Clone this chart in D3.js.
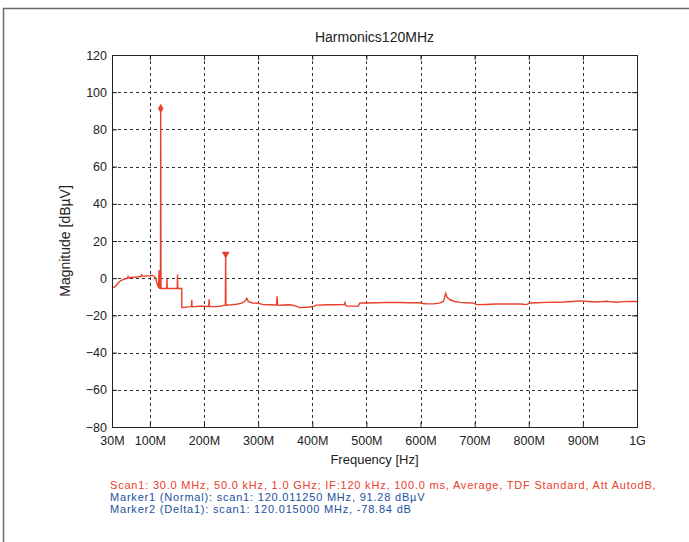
<!DOCTYPE html>
<html>
<head>
<meta charset="utf-8">
<script src="https://cdn.jsdelivr.net/npm/d3@7"></script>
<style>
  html, body { margin: 0; padding: 0; background: #fff; }
  svg { display: block; }
  text { font-family: "Liberation Sans", Arial, sans-serif; }
</style>
</head>
<body>
<svg id="chart" width="689" height="542"></svg>
<script>
// Scan trace: frequency in MHz and level in dBµV
const freqMHz = [
  30, 33, 36, 40, 44, 48, 52, 56, 59, 59.6, 60.2, 64, 70, 75, 80, 84, 84.6, 85.2, 90, 95, 100, 104, 107,
  110, 112, 114, 116, 116.8, 117.4, 118, 119.5, 120, 120.5, 126,
  131, 131.5, 132, 140, 150.5, 151, 151.5, 158.8, 159,
  165, 170, 176, 176.8, 177.4, 178, 185, 192, 200, 208, 208.8, 209.4, 210, 220, 230, 236, 239.4, 240, 240.6,
  250, 260, 270, 276, 279, 282, 290, 300, 310, 320, 334, 335, 336, 340, 345,
  359, 370, 377, 390, 396, 404, 408, 420, 427, 440, 457, 460, 460.6, 461.2, 464, 475, 485, 488,
  500, 520, 540, 560, 580, 599, 605, 611, 623, 635, 642, 644, 646.6, 649, 654.5, 663, 673, 685, 697,
  704, 720, 740, 755, 771, 785, 796, 802, 815, 833, 850, 865, 880, 895, 910, 925.6, 935, 944, 952, 962.5,
  975, 988, 1000
];
const levelDb = [
  -4.8, -4.9, -4.5, -3.0, -1.8, -1.0, -0.6, -0.2, 0.0, 1.4, 0.1, 0.4, 0.5, 0.6, 0.8, 0.9, 2.2, 1.0, 1.1, 1.2, 1.3, 1.6, 1.2,
  0.4, -1.5, -3.5, -5.0, 4.3, -5.2, -5.4, -5.5, 91.28, -5.5, -5.5,
  -5.5, -0.5, -5.5, -5.5, -5.5, 2.0, -5.5, -5.5, -15.8,
  -15.6, -15.4, -15.3, -15.3, -11.8, -15.3, -15.2, -15.0, -15.1, -15.2, -15.2, -11.4, -15.2, -15.3, -15.1, -14.6, -14.5, 12.44, -14.5,
  -14.3, -14.0, -13.4, -12.3, -10.8, -12.6, -13.3, -13.5, -14.2, -14.3, -14.4, -9.7, -14.5, -14.6, -14.4,
  -14.3, -15.0, -15.8, -15.6, -15.5, -15.0, -14.5, -14.4, -14.3, -14.3, -14.2, -14.2, -12.5, -14.4, -15.0, -15.0, -15.0, -13.3,
  -13.3, -13.2, -13.0, -13.1, -13.2, -13.2, -13.6, -13.8, -13.8, -13.4, -12.5, -11.0, -8.2, -10.2, -11.6, -12.5, -13.0, -13.2, -13.3,
  -14.2, -14.1, -13.9, -13.9, -13.8, -13.9, -14.2, -13.3, -13.2, -13.0, -12.9, -12.8, -12.5, -12.2, -12.5, -12.8, -12.6, -12.4, -12.7, -12.9,
  -12.6, -12.5, -12.5
];

// Markers placed on the trace
const markerFreqMHz = [120, 240];
const markerLevelDb = [91.28, 12.44];

// Axis ticks
const xTickValues = [30, 100, 200, 300, 400, 500, 600, 700, 800, 900, 1000];
const xTickLabels = ["30M", "100M", "200M", "300M", "400M", "500M", "600M", "700M", "800M", "900M", "1G"];
const yTickValues = [-80, -60, -40, -20, 0, 20, 40, 60, 80, 100, 120];

// Text blocks
const chartTitle = "Harmonics120MHz";
const xAxisTitle = "Frequency [Hz]";
const yAxisTitle = "Magnitude [dBµV]";
const scanInfo = "Scan1: 30.0 MHz, 50.0 kHz, 1.0 GHz; IF:120 kHz, 100.0 ms, Average, TDF Standard, Att AutodB,";
const markerInfo = [
  "Marker1 (Normal): scan1: 120.011250 MHz, 91.28 dBµV",
  "Marker2 (Delta1): scan1: 120.015000 MHz, -78.84 dB"
];

const traceColor = "#e8402c";
const infoBlue = "#1b4f9e";

const svg = d3.select("#chart");
const plot = { left: 112, top: 55, right: 637, bottom: 427 };

const x = d3.scaleLinear().domain([30, 1000]).range([plot.left, plot.right]);
const y = d3.scaleLinear().domain([-80, 120]).range([plot.bottom, plot.top]);

// Outer frame (top and left edges)
svg.append("path")
  .attr("d", `M3.5,542 V8.5 H689`)
  .attr("fill", "none")
  .attr("stroke", "#6a6a6a")
  .attr("stroke-width", 1.5);

// Dashed grid
const grid = svg.append("g").attr("stroke", "#333").attr("stroke-width", 1).attr("stroke-dasharray", "3,3");
xTickValues.slice(1, -1).forEach(v => {
  grid.append("line")
    .attr("x1", Math.round(x(v)) + 0.5).attr("x2", Math.round(x(v)) + 0.5)
    .attr("y1", plot.top).attr("y2", plot.bottom);
});
yTickValues.slice(1, -1).forEach(v => {
  grid.append("line")
    .attr("x1", plot.left).attr("x2", plot.right)
    .attr("y1", Math.round(y(v)) + 0.5).attr("y2", Math.round(y(v)) + 0.5);
});

// Axes with inward ticks on all four sides
const fmtX = d => xTickLabels[xTickValues.indexOf(d)];
const bottomAxis = d3.axisBottom(x).tickValues(xTickValues).tickFormat(fmtX).tickSizeInner(-5).tickSizeOuter(0).tickPadding(9);
const topAxis = d3.axisTop(x).tickValues(xTickValues).tickFormat("").tickSizeInner(-5).tickSizeOuter(0);
const leftAxis = d3.axisLeft(y).tickValues(yTickValues).tickFormat(d3.format("d")).tickSizeInner(-5).tickSizeOuter(0).tickPadding(5);
const rightAxis = d3.axisRight(y).tickValues(yTickValues).tickFormat("").tickSizeInner(-5).tickSizeOuter(0);

function styleAxis(g) {
  g.selectAll("path").remove();
  g.selectAll("line").attr("stroke", "#222");
  g.selectAll("text").attr("fill", "#222").style("font-size", "12.5px");
}
svg.append("g").attr("transform", `translate(0,${plot.bottom})`).call(bottomAxis).call(styleAxis);
svg.append("g").attr("transform", `translate(0,${plot.top})`).call(topAxis).call(styleAxis);
svg.append("g").attr("transform", `translate(${plot.left},0)`).call(leftAxis).call(styleAxis);
svg.append("g").attr("transform", `translate(${plot.right},0)`).call(rightAxis).call(styleAxis);

// Trace
const series = freqMHz.map((f, i) => [f, levelDb[i]]);
svg.append("path")
  .datum(series)
  .attr("fill", "none")
  .attr("stroke", traceColor)
  .attr("stroke-width", 1.4)
  .attr("stroke-linejoin", "miter")
  .attr("d", d3.line().x(d => x(d[0])).y(d => y(d[1])));

// Marker symbols: diamond for the normal marker, down triangle for the delta marker
const markerSymbols = [d3.symbolDiamond, d3.symbolTriangle];
markerFreqMHz.forEach((f, i) => {
  svg.append("path")
    .attr("d", d3.symbol().type(markerSymbols[i]).size(26)())
    .attr("transform", `translate(${x(f)},${y(markerLevelDb[i]) - (i === 1 ? 1 : 0)}) rotate(${i === 1 ? 180 : 0})`)
    .attr("fill", traceColor);
});

// Plot border
svg.append("rect")
  .attr("x", plot.left + 0.5).attr("y", plot.top + 0.5)
  .attr("width", plot.right - plot.left).attr("height", plot.bottom - plot.top)
  .attr("fill", "none").attr("stroke", "#222").attr("stroke-width", 1);

// Titles
svg.append("text")
  .attr("x", (plot.left + plot.right) / 2).attr("y", 42)
  .attr("text-anchor", "middle").attr("fill", "#222").style("font-size", "14px")
  .text(chartTitle);
svg.append("text")
  .attr("x", (plot.left + plot.right) / 2).attr("y", 464)
  .attr("text-anchor", "middle").attr("fill", "#222").style("font-size", "13px")
  .text(xAxisTitle);
svg.append("text")
  .attr("transform", `translate(70,${(plot.top + plot.bottom) / 2}) rotate(-90)`)
  .attr("text-anchor", "middle").attr("fill", "#222").style("font-size", "14px")
  .text(yAxisTitle);

// Scan / marker information lines
const infoStyle = sel => sel.style("font-size", "11px").style("letter-spacing", "0.8px");
svg.append("text")
  .attr("x", 110).attr("y", 489)
  .attr("fill", traceColor).call(infoStyle)
  .text(scanInfo);
markerInfo.forEach((t, i) => {
  svg.append("text")
    .attr("x", 110).attr("y", 501 + i * 12)
    .attr("fill", infoBlue).call(infoStyle)
    .text(t);
});
</script>
</body>
</html>
